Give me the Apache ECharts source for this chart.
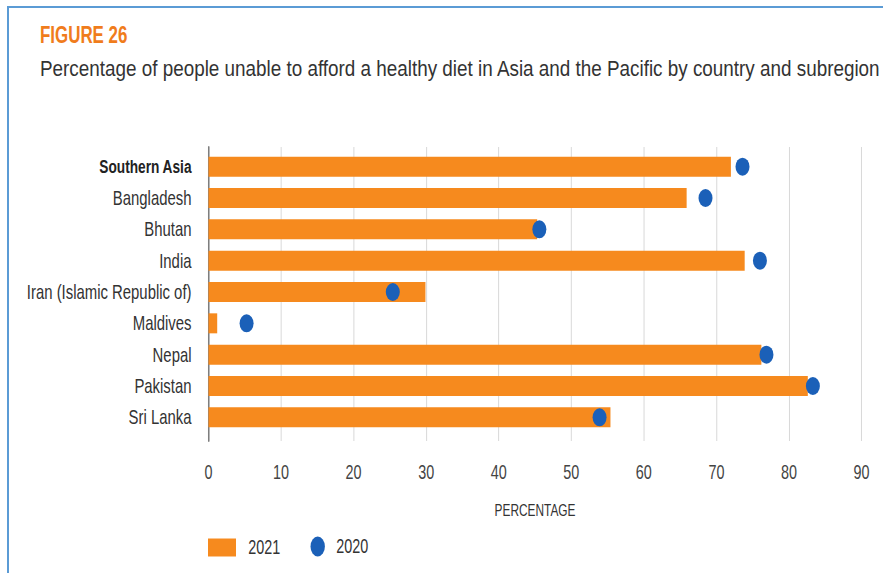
<!DOCTYPE html>
<html>
<head>
<meta charset="utf-8">
<script src="https://cdn.jsdelivr.net/npm/echarts@6/dist/echarts.min.js"></script>
<style>
html,body{margin:0;padding:0;background:#fff;overflow:hidden;width:883px;height:573px;}
#frame{position:absolute;left:7px;top:6px;width:900px;height:600px;border-left:2px solid #5b9bd5;border-top:2px solid #5b9bd5;}
#chart{position:absolute;left:0;top:0;transform-origin:0 0;}
#sub{position:absolute;left:0;top:0;transform-origin:0 0;}
</style>
</head>
<body>
<div id="frame"></div>
<div id="chart"></div>
<div id="sub"></div>
<script>
const categories = ['Southern Asia','Bangladesh','Bhutan','India','Iran (Islamic Republic of)','Maldives','Nepal','Pakistan','Sri Lanka'];
const values2021 = [72.0, 65.9, 45.3, 73.9, 29.9, 1.2, 76.2, 82.6, 55.4];
const values2020 = [73.6, 68.5, 45.6, 76.0, 25.4, 5.25, 76.9, 83.3, 53.9];
const xTicks = {min: 0, max: 90, interval: 10};
const figureTitle = 'FIGURE 26';
const subtitle = 'Percentage of people unable to afford a healthy diet in Asia and the Pacific by country and subregion';
const axisName = 'PERCENTAGE';

const FONT = "'Liberation Sans', Arial, sans-serif";
const ORANGE = '#f68a1e';
const BLUE = '#1b60b8';
const ELLIPSE = 'path://M50,0A50,50,0,1,1,50,100A50,50,0,1,1,50,0Z';

// The reference uses a condensed typeface; emulate it by drawing at a wider
// virtual width and compressing horizontally.
const W = 883, H = 573;
const S = 0.72;            // horizontal compression for the chart body
const ST = 0.85;           // horizontal compression for the subtitle
const X = v => v / S;      // real px -> virtual px

const chartDom = document.getElementById('chart');
chartDom.style.width = (W / S) + 'px';
chartDom.style.height = H + 'px';
chartDom.style.transform = 'scaleX(' + S + ')';

const subDom = document.getElementById('sub');
subDom.style.width = (W / ST) + 'px';
subDom.style.height = '110px';
subDom.style.transform = 'scaleX(' + ST + ')';

const chart = echarts.init(chartDom, null, {renderer: 'svg', width: W / S, height: H});
chart.setOption({
  animation: false,
  backgroundColor: 'transparent',
  textStyle: {fontFamily: FONT},
  title: [
    {text: figureTitle, left: X(40), top: 22, padding: 0,
     textStyle: {fontFamily: FONT, fontWeight: 'bold', fontSize: 23.5, color: '#f07c1c'}}
  ],
  legend: [
    {data: ['2021'], left: X(208), top: 537.5, padding: 0,
     itemWidth: X(28), itemHeight: 18, icon: 'rect',
     textStyle: {fontFamily: FONT, fontSize: 20, lineHeight: 18, color: '#333', padding: [0, 0, 0, 12]}},
    {data: ['2020'], left: X(310.5), top: 536.5, padding: 0,
     itemWidth: X(15.5), itemHeight: 20, icon: ELLIPSE,
     textStyle: {fontFamily: FONT, fontSize: 20, lineHeight: 20, color: '#333', padding: [0, 0, 0, 10]}}
  ],
  grid: [
    {left: X(208.5), top: 147, width: X(653), height: 294, outerBoundsMode: 'none', containLabel: false},
    {left: X(208.5), top: 151, width: X(653), height: 282, outerBoundsMode: 'none', containLabel: false}
  ],
  xAxis: [
    {gridIndex: 0, type: 'value', min: xTicks.min, max: xTicks.max, interval: xTicks.interval,
     axisLine: {show: false}, axisTick: {show: false},
     splitLine: {show: true, lineStyle: {color: '#d9d9d9', width: 1.4}},
     axisLabel: {fontFamily: FONT, fontSize: 20, color: '#444', margin: 21},
     name: axisName, nameLocation: 'middle', nameGap: 61,
     nameTextStyle: {fontFamily: FONT, fontSize: 16.5, color: '#333'}},
    {gridIndex: 1, type: 'value', min: xTicks.min, max: xTicks.max, interval: xTicks.interval, show: false}
  ],
  yAxis: [
    {gridIndex: 0, type: 'value', min: 0, max: 1,
     axisLine: {show: true, lineStyle: {color: '#777', width: 2}},
     axisTick: {show: false}, axisLabel: {show: false}, splitLine: {show: false}},
    {gridIndex: 1, type: 'category', inverse: true, data: categories,
     axisLine: {show: false}, axisTick: {show: false}, splitLine: {show: false},
     axisLabel: {
       fontFamily: FONT, fontSize: 20.7, color: '#333', margin: X(17),
       formatter: function (v, i) { return i === 0 ? '{b|' + v + '}' : v; },
       rich: {b: {fontFamily: FONT, fontSize: 19, fontWeight: 'bold', color: '#222'}}
     }}
  ],
  series: [
    {name: '2021', type: 'bar', xAxisIndex: 1, yAxisIndex: 1, data: values2021,
     barWidth: 20, itemStyle: {color: ORANGE}, z: 2},
    {name: '2020', type: 'scatter', xAxisIndex: 1, yAxisIndex: 1, data: values2020,
     symbol: ELLIPSE, symbolSize: [X(14), 18], itemStyle: {color: BLUE, opacity: 1}, z: 3}
  ]
});

const subChart = echarts.init(subDom, null, {renderer: 'svg', width: W / ST, height: 110});
subChart.setOption({
  animation: false,
  backgroundColor: 'transparent',
  title: [
    {text: subtitle, left: 40 / ST, top: 57, padding: 0,
     textStyle: {fontFamily: FONT, fontWeight: 'normal', fontSize: 22.2, color: '#333'}}
  ]
});
</script>
</body>
</html>
